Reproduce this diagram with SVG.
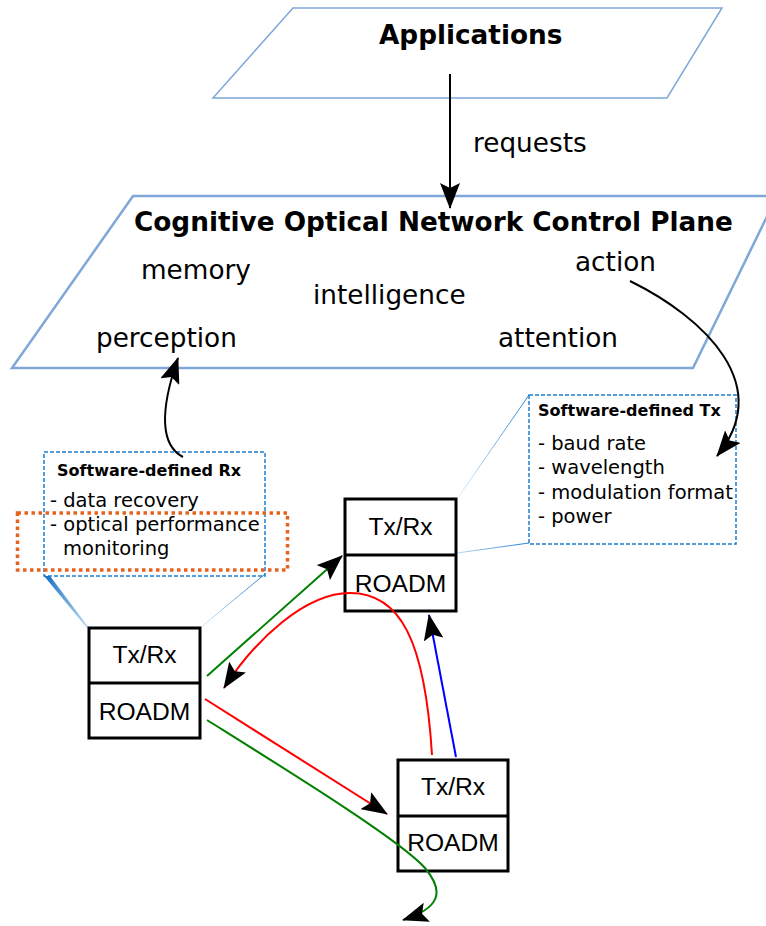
<svg xmlns="http://www.w3.org/2000/svg" width="766" height="926" viewBox="0 0 766 926">
<style>
  .plane { fill: #ffffff; stroke: #7fa7d8; }
  .t { font-family: "DejaVu Sans", sans-serif; fill: #000; }
  .b { font-weight: bold; }
  .big { font-size: 26.3px; }
  .item { font-size: 19.5px; }
  .sub { font-size: 16px; }
  .node rect { fill: #ffffff; stroke: #000; stroke-width: 3; }
  .node line { stroke: #000; stroke-width: 3; }
  .nt { font-family: "Liberation Sans", Arial, sans-serif; font-size: 24.6px; text-anchor: middle; fill: #000; }
  .callbox { fill: none; stroke: #1f7fcf; stroke-width: 1.5; stroke-dasharray: 4 2; }
  .opm { fill: none; stroke: #e8621e; stroke-width: 3.5; stroke-dasharray: 3.5 3.5; }
  .conn { fill: none; stroke-width: 2; }
</style>
<defs>
  <marker id="ah" viewBox="0 0 26 20" refX="25" refY="10" markerWidth="26" markerHeight="20" markerUnits="userSpaceOnUse" orient="auto">
    <path d="M0,0 L26,10 L0,20 L5,10 z" fill="#000"/>
  </marker>
  <linearGradient id="g1" gradientUnits="userSpaceOnUse" x1="265" y1="574" x2="200" y2="628">
    <stop offset="0" stop-color="#1f7fcf"/>
    <stop offset="1" stop-color="#1f7fcf" stop-opacity="0.15"/>
  </linearGradient>
  <linearGradient id="g2" gradientUnits="userSpaceOnUse" x1="44" y1="576" x2="88" y2="628">
    <stop offset="0" stop-color="#1a70c0"/>
    <stop offset="1" stop-color="#1f7fcf" stop-opacity="0.3"/>
  </linearGradient>
  <linearGradient id="g3" gradientUnits="userSpaceOnUse" x1="529" y1="395" x2="457" y2="499">
    <stop offset="0" stop-color="#1f7fcf"/>
    <stop offset="1" stop-color="#1f7fcf" stop-opacity="0.1"/>
  </linearGradient>
  <linearGradient id="g4" gradientUnits="userSpaceOnUse" x1="529" y1="543" x2="457" y2="553">
    <stop offset="0" stop-color="#1f7fcf"/>
    <stop offset="1" stop-color="#1f7fcf" stop-opacity="0.3"/>
  </linearGradient>
</defs>

<g id="applications">
  <polygon class="plane" stroke-width="1.5" points="293,8 722,8 667,98 213,98"/>
  <text class="t b big" x="379" y="44">Applications</text>
</g>

<g id="control-plane">
  <polygon class="plane" stroke-width="2.5" points="133,196 777,196 693,368 12,368"/>
  <text class="t b big" x="134" y="231">Cognitive Optical Network Control Plane</text>
  <text class="t big" x="141" y="279">memory</text>
  <text class="t big" x="313" y="304">intelligence</text>
  <text class="t big" x="575" y="271">action</text>
  <text class="t big" x="96" y="347">perception</text>
  <text class="t big" x="498" y="347">attention</text>
</g>

<g id="sd-rx">
  <rect class="callbox" x="44" y="452" width="221" height="124"/>
  <rect class="opm" x="17.5" y="513" width="270" height="57"/>
  <text class="t b sub" x="57" y="476">Software-defined Rx</text>
  <text class="t item" x="50" y="507">- data recovery</text>
  <text class="t item" x="50" y="531">- optical performance</text>
  <text class="t item" x="63" y="555">monitoring</text>
</g>

<g id="sd-tx">
  <rect class="callbox" x="529" y="395" width="207" height="149"/>
  <text class="t b sub" x="538" y="416">Software-defined Tx</text>
  <text class="t item" x="538" y="449.5">- baud rate</text>
  <text class="t item" x="538" y="474">- wavelength</text>
  <text class="t item" x="538" y="498.5">- modulation format</text>
  <text class="t item" x="538" y="523">- power</text>
</g>

<g id="callout-lines">
  <polygon points="44,576 50,576 89,628 87,628" fill="url(#g2)"/>
  <line x1="265" y1="574" x2="200" y2="628" stroke="url(#g1)" stroke-width="1"/>
  <line x1="529" y1="395" x2="457" y2="499" stroke="url(#g3)" stroke-width="1"/>
  <line x1="529" y1="543" x2="457" y2="553" stroke="url(#g4)" stroke-width="1"/>
</g>

<g id="node1" class="node">
  <rect x="89" y="628" width="111" height="110"/>
  <line x1="89" y1="683" x2="200" y2="683"/>
  <text class="nt" x="144.5" y="663">Tx/Rx</text>
  <text class="nt" x="144.5" y="720">ROADM</text>
</g>

<g id="node2" class="node">
  <rect x="345" y="499" width="111" height="112"/>
  <line x1="345" y1="555" x2="456" y2="555"/>
  <text class="nt" x="400.5" y="535">Tx/Rx</text>
  <text class="nt" x="400.5" y="591.5">ROADM</text>
</g>

<g id="node3" class="node">
  <rect x="398" y="760" width="110" height="111"/>
  <line x1="398" y1="816" x2="508" y2="816"/>
  <text class="nt" x="453" y="795">Tx/Rx</text>
  <text class="nt" x="453" y="851">ROADM</text>
</g>

<g id="connectors">
  <path class="conn" stroke="#000" d="M450,74 L450,208" marker-end="url(#ah)"/>
  <text class="t big" x="473" y="152">requests</text>
  <path class="conn" stroke="#000" d="M183,457 C160,445 160,410 178,358" marker-end="url(#ah)"/>
  <path class="conn" stroke="#000" d="M630,281 C705,318 775,385 717,456" marker-end="url(#ah)"/>
  <path class="conn" stroke="#008000" d="M207,676 L342,556" marker-end="url(#ah)"/>
  <path class="conn" stroke="#ff0000" d="M432,755 C425,640 400,593 350,593 C305,593 255,640 224,688" marker-end="url(#ah)"/>
  <path class="conn" stroke="#0000ff" d="M456,757 L429,615" marker-end="url(#ah)"/>
  <path class="conn" stroke="#ff0000" d="M205,699 L387,814" marker-end="url(#ah)"/>
  <path class="conn" stroke="#008000" d="M207,720 C290,772 400,840 425,868 C445,892 440,908 403,920" marker-end="url(#ah)"/>
</g>
</svg>
